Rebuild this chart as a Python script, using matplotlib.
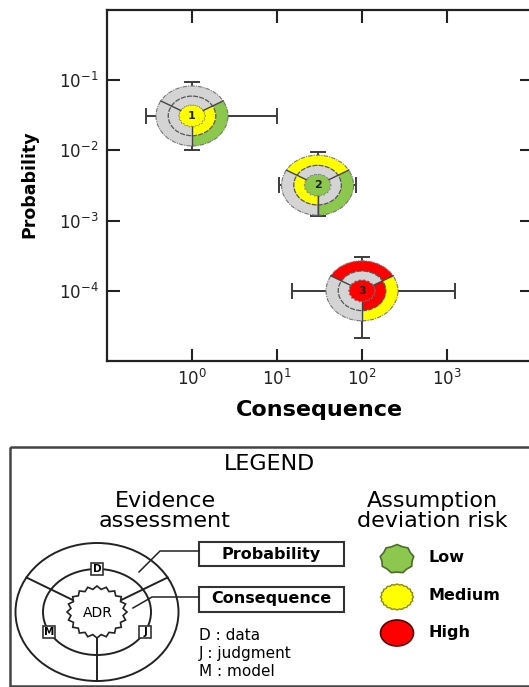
import numpy as np
import matplotlib.pyplot as plt
from matplotlib import transforms
from matplotlib.patches import Wedge, Circle, Polygon, Rectangle, Ellipse

# ------------------
# data
# ------------------
scenario_ids = ['1', '2', '3']
consequence = [1.0, 30.0, 100.0]
cons_low = [0.29, 10.5, 15.0]
cons_high = [10.0, 85.0, 1250.0]
probability = [0.031, 0.0032, 1.0e-4]
prob_low = [0.010, 0.00115, 2.1e-5]
prob_high = [0.093, 0.0094, 3.0e-4]

# risk per sector (D top, M left, J right) and for the ADR centre
prob_ring = [('none', 'none', 'low'), ('medium', 'none', 'low'), ('high', 'none', 'medium')]
cons_ring = [('none', 'none', 'medium'), ('none', 'medium', 'none'), ('none', 'none', 'high')]
adr_risk = ['medium', 'low', 'high']

xticks = [1, 10, 100, 1000]
yticks = [1e-4, 1e-3, 1e-2, 1e-1]

risk_labels = ['Low', 'Medium', 'High']
evidence_keys = ['D : data', 'J : judgment', 'M : model']

colors = {'none': '#d4d4d4', 'low': '#8cc84e', 'medium': '#ffff00', 'high': '#ff0000'}
line_col = '#555555'
sector_angles = [(30, 150), (150, 270), (270, 390)]

W, H = 529, 687
RX, RY = 36, 30  # marker size in pixels


def draw_marker(ax, x, y, outer, inner, centre, label):
    tr = transforms.Affine2D().scale(RX, RY) + transforms.ScaledTranslation(x, y, ax.transData)
    for (a1, a2), c in zip(sector_angles, outer):
        ax.add_patch(Wedge((0, 0), 1.0, a1, a2, width=0.34, facecolor=colors[c],
                           edgecolor='none', transform=tr, zorder=4))
    for (a1, a2), c in zip(sector_angles, inner):
        ax.add_patch(Wedge((0, 0), 0.66, a1, a2, width=0.32, facecolor=colors[c],
                           edgecolor='none', transform=tr, zorder=4))
    # ring outlines
    ax.add_patch(Circle((0, 0), 1.0, fill=False, ec='#777777', lw=0.8, ls=(0, (4, 1, 1, 1)),
                        transform=tr, zorder=5))
    ax.add_patch(Circle((0, 0), 0.66, fill=False, ec=line_col, lw=0.9, ls=(0, (4, 1)),
                        transform=tr, zorder=5))
    for a in (30, 150, 270):
        t = np.deg2rad(a)
        ax.plot([0.34 * np.cos(t), np.cos(t)], [0.34 * np.sin(t), np.sin(t)],
                color='#444444', lw=1.0, transform=tr, zorder=5)
    # ADR centre
    n = 36
    th = np.linspace(0, 2 * np.pi, n, endpoint=False)
    rr = np.where(np.arange(n) % 2 == 0, 0.38, 0.34)
    ax.add_patch(Polygon(np.c_[rr * np.cos(th), rr * np.sin(th)], closed=True,
                         facecolor=colors[centre], edgecolor='#777777', lw=0.6,
                         ls=(0, (2, 1)), transform=tr, zorder=6))
    ax.text(x, y, label, ha='center', va='center', fontsize=8, fontweight='bold',
            color='#222222', zorder=7)


def main():
    fig = plt.figure(figsize=(W / 100, H / 100), dpi=100)

    ax = fig.add_axes([107 / W, 1 - 361 / H, 425 / W, 351 / H])
    ax.set_xscale('log')
    ax.set_yscale('log')
    ax.set_xlim(1e-1, 1e4)
    ax.set_ylim(1e-5, 1e0)
    ax.set_xticks(xticks)
    ax.set_yticks(yticks)
    ax.minorticks_off()
    ax.tick_params(direction='in', length=9, width=1.5, top=True, right=True,
                   labelsize=12, pad=6, colors='#222222')
    for s in ax.spines.values():
        s.set_linewidth(1.6)
        s.set_color('#222222')

    x = np.array(consequence)
    y = np.array(probability)
    xerr = [x - np.array(cons_low), np.array(cons_high) - x]
    yerr = [y - np.array(prob_low), np.array(prob_high) - y]
    ax.errorbar(x, y, xerr=xerr, yerr=yerr, fmt='none', ecolor='#3c3c3c',
                elinewidth=1.4, capsize=5.5, capthick=1.4, zorder=2)

    for i in range(len(scenario_ids)):
        draw_marker(ax, consequence[i], probability[i], prob_ring[i], cons_ring[i],
                    adr_risk[i], scenario_ids[i])

    ax.set_xlabel('Consequence', fontsize=16, fontweight='bold')
    ax.xaxis.label.set_va('center')
    ax.xaxis.set_label_coords(0.5, (361 - 410) / 351)
    ax.set_ylabel('Probability', fontsize=12.5, fontweight='bold')
    ax.yaxis.label.set_va('center')
    ax.yaxis.set_label_coords((29 - 107) / 425, (361 - 184) / 351)

    # ------------------
    # legend panel (pixel coordinates)
    # ------------------
    lax = fig.add_axes([0, 0, 1, 1], zorder=-1)
    lax.set_xlim(0, W)
    lax.set_ylim(H, 0)
    lax.axis('off')

    lax.add_patch(Rectangle((10, 447), 540, 239, fill=False, ec='#444444', lw=1.8))
    lax.text(269, 464, 'LEGEND', ha='center', va='center', fontsize=16)
    lax.text(165, 511, 'Evidence\nassessment', ha='center', va='center', fontsize=16,
             linespacing=1.0)
    lax.text(432, 511, 'Assumption\ndeviation risk', ha='center', va='center', fontsize=16,
             linespacing=1.0)

    # evidence diagram
    cx, cy = 97, 612
    lax.add_patch(Ellipse((cx, cy), 163, 138, fill=False, ec='#222222', lw=1.4))
    lax.add_patch(Ellipse((cx, cy), 108, 86, fill=False, ec='#222222', lw=1.4))
    n = 40
    th = np.linspace(0, 2 * np.pi, n, endpoint=False)
    rr = np.where(np.arange(n) % 2 == 0, 1.0, 0.88)
    lax.add_patch(Polygon(np.c_[cx + 30 * rr * np.cos(th), cy - 26 * rr * np.sin(th)],
                          closed=True, facecolor='white', ec='#222222', lw=1.2, zorder=3))
    lax.text(cx + 1, cy + 1, 'ADR', ha='center', va='center', fontsize=10, zorder=4)
    for a in (30, 150, 270):
        t = np.deg2rad(a)
        lax.plot([cx + 28 * np.cos(t), cx + 81.5 * np.cos(t)],
                 [cy - 24 * np.sin(t), cy - 69 * np.sin(t)], color='#222222', lw=1.4)
    for a, letter in zip((90, 207, 333), ('D', 'M', 'J')):
        t = np.deg2rad(a)
        bx, by = cx + 54 * np.cos(t), cy - 43 * np.sin(t)
        lax.add_patch(Rectangle((bx - 6, by - 6), 12, 12, facecolor='white', ec='#333333',
                                lw=1.2, zorder=5))
        lax.text(bx, by, letter, ha='center', va='center', fontsize=7.5, fontweight='bold',
                 zorder=6)

    # callout boxes
    lax.add_patch(Rectangle((199, 542), 145, 24, fill=False, ec='#333333', lw=1.5))
    lax.text(271, 554, 'Probability', ha='center', va='center', fontsize=11.5,
             fontweight='bold')
    lax.add_patch(Rectangle((199, 587), 145, 25, fill=False, ec='#333333', lw=1.5))
    lax.text(271, 599, 'Consequence', ha='center', va='center', fontsize=11.5,
             fontweight='bold')
    lax.plot([199, 160, 139], [551, 551, 572], color='#222222', lw=1.1)
    lax.plot([199, 152, 133], [597, 597, 608], color='#222222', lw=1.1)

    for i, key in enumerate(evidence_keys):
        lax.text(199, 635 + 18.5 * i, key, ha='left', va='center', fontsize=11)

    # risk symbols
    sx = 397
    sy = [559, 597, 633]
    th = np.linspace(0, 2 * np.pi, 18, endpoint=False) + np.pi / 2
    rr = np.where(np.arange(18) % 2 == 0, 1.0, 0.9)
    lax.add_patch(Polygon(np.c_[sx + 17 * rr * np.cos(th), sy[0] - 14.5 * rr * np.sin(th)],
                          closed=True, facecolor=colors['low'], ec='#4d6b2a', lw=1.2))
    th = np.linspace(0, 2 * np.pi, 40, endpoint=False)
    rr = np.where(np.arange(40) % 2 == 0, 1.0, 0.93)
    lax.add_patch(Polygon(np.c_[sx + 16.5 * rr * np.cos(th), sy[1] - 13 * rr * np.sin(th)],
                          closed=True, facecolor=colors['medium'], ec='#8a8a10', lw=1.0))
    lax.add_patch(Ellipse((sx, sy[2]), 33, 26, facecolor=colors['high'], ec='#5a0000', lw=1.2))
    for yy, lab in zip(sy, risk_labels):
        lax.text(428, yy - 1, lab, ha='left', va='center', fontsize=11.5, fontweight='bold')

    fig.savefig('out.png', dpi=100)


if __name__ == "__main__":
    main()
